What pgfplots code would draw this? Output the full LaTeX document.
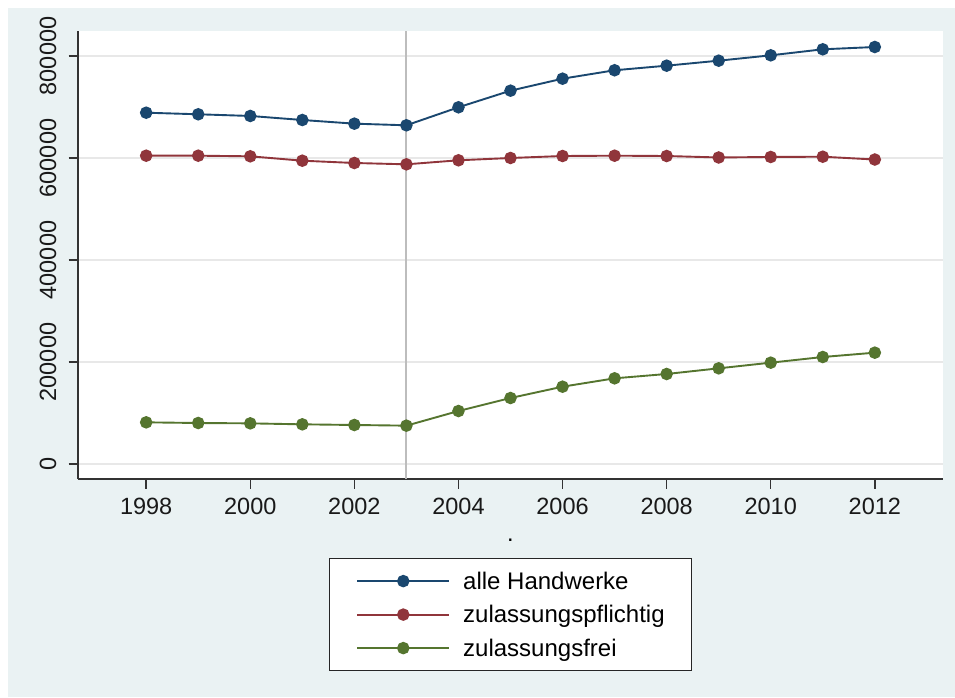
\documentclass[border=0pt]{standalone}
\usepackage{pgfplots}
\pgfplotsset{compat=1.18}
\usepackage{fontspec}
\setmainfont{Liberation Sans}
\definecolor{sbg}{HTML}{EAF2F3}
\definecolor{snavy}{HTML}{1A476F}
\definecolor{smaroon}{HTML}{90353B}
\definecolor{sgreen}{HTML}{55752F}
\begin{document}
\begin{tikzpicture}
\fill[white] (0,0) rectangle (955pt,697pt);
\fill[sbg] (8pt,0) rectangle (955pt,689pt);
\begin{axis}[
  at={(78pt,218pt)}, anchor=south west, scale only axis,
  width=865pt, height=448pt,
  xmin=1996.69, xmax=2013.31, ymin=-29400, ymax=849000,
  scaled y ticks=false, scaled x ticks=false,
  axis background/.style={fill=white},
  axis lines*=left,
  axis line style={black!80, line width=1.4pt},
  xtick={1998,2000,2002,2004,2006,2008,2010,2012},
  xticklabels={1998,2000,2002,2004,2006,2008,2010,2012},
  ytick={0,200000,400000,600000,800000},
  yticklabels={0,200000,400000,600000,800000},
  tick align=outside, major tick length=9.5pt,
  tick style={black!80, line width=1.4pt},
  ymajorgrids, grid style={color=black!9, line width=1.5pt},
  ticklabel style={font=\fontsize{23.5}{28}\selectfont, text=black!90},
  yticklabel style={rotate=90, anchor=south, inner sep=0pt, yshift=12pt},
  xticklabel style={anchor=north, inner sep=0pt, yshift=-9pt},
  xlabel={.},
  xlabel style={at={(axis description cs:0.5,0)}, anchor=base, yshift=-62pt, font=\fontsize{23.5}{28}\selectfont},
  legend style={at={(0.5,-0.1763)}, anchor=north, draw=black!85, line width=1.2pt, fill=white,
    font=\fontsize{24}{28}\selectfont, inner xsep=27pt, inner ysep=9pt,
    nodes={inner sep=0pt, text height=21.5pt, text depth=5.5pt},
    row sep=6.5pt,
    /tikz/every odd column/.style={column sep=13pt}},
  legend cell align=left,
  legend image code/.code={\draw[mark repeat=2,mark phase=2,#1] plot coordinates {(0pt,0pt) (46pt,0pt) (92pt,0pt)};},
  every axis plot/.append style={line width=1.9pt, mark=*, mark size=5.3pt},
]
\addplot[color=black!26, line width=2pt, no marks, forget plot] coordinates {(2003,-29400) (2003,849000)};
\addplot[color=snavy, mark options={fill=snavy}] coordinates {
(1998,688800) (1999,685700) (2000,682400) (2001,674500) (2002,667300) (2003,664100)
(2004,699400) (2005,732000) (2006,755500) (2007,772000) (2008,781000) (2009,790800)
(2010,801300) (2011,813100) (2012,817600)};
\addlegendentry{alle Handwerke}
\addplot[color=smaroon, mark options={fill=smaroon}] coordinates {
(1998,604500) (1999,604500) (2000,603300) (2001,594700) (2002,590200) (2003,587600)
(2004,595500) (2005,600000) (2006,603900) (2007,604500) (2008,603900) (2009,601000)
(2010,602000) (2011,602500) (2012,597000)};
\addlegendentry{zulassungspflichtig}
\addplot[color=sgreen, mark options={fill=sgreen}] coordinates {
(1998,81700) (1999,80400) (2000,79700) (2001,77800) (2002,76500) (2003,75200)
(2004,103900) (2005,129400) (2006,151600) (2007,168000) (2008,176500) (2009,187600)
(2010,198700) (2011,209800) (2012,218300)};
\addlegendentry{zulassungsfrei}
\end{axis}
\end{tikzpicture}
\end{document}
